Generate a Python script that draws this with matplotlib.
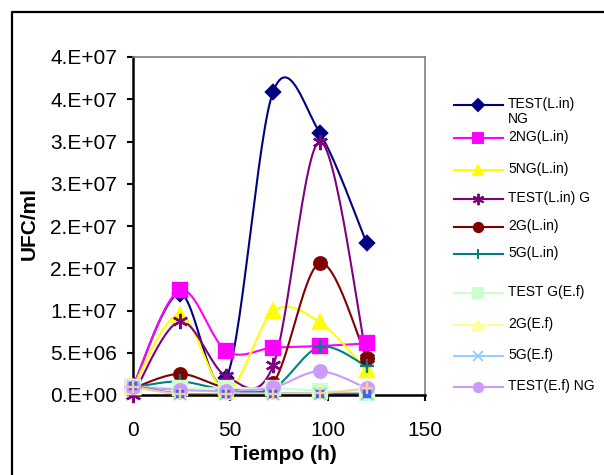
import numpy as np
import matplotlib
matplotlib.use("Agg")
import matplotlib.pyplot as plt
from matplotlib.lines import Line2D
from matplotlib.ticker import FuncFormatter, MultipleLocator

plt.rcParams['font.family'] = ['Liberation Sans', 'DejaVu Sans']

# sampling times (h)
hours = [0, 24, 48, 72, 96, 120]

# UFC/ml per series
test_lin_ng = [1.0e6, 12.0e6, 2.0e6, 35.9e6, 31.0e6, 18.0e6]
ng2_lin = [1.0e6, 12.4e6, 5.2e6, 5.6e6, 5.8e6, 6.1e6]
ng5_lin = [1.0e6, 9.5e6, 0.5e6, 9.9e6, 8.6e6, 2.9e6]
test_lin_g = [0.0, 8.7e6, 2.2e6, 3.5e6, 30.0e6, 4.4e6]
g2_lin = [0.8e6, 2.5e6, 0.9e6, 1.4e6, 15.6e6, 4.4e6]
g5_lin = [0.9e6, 1.6e6, 0.6e6, 0.8e6, 5.7e6, 3.4e6]
test_ef_g = [1.0e6, 0.8e6, 0.8e6, 0.8e6, 0.5e6, 0.2e6]
g2_ef = [0.8e6, 0.2e6, 0.2e6, 0.2e6, 0.2e6, 0.5e6]
g5_ef = [1.0e6, 0.1e6, 0.1e6, 0.1e6, 0.1e6, 0.1e6]
test_ef_ng = [1.0e6, 0.6e6, 0.5e6, 0.9e6, 2.8e6, 0.8e6]
extra_blue = [1.1e6, 0.15e6, 0.15e6, 0.15e6, 0.15e6, 0.15e6]
extra_peach = [1.0e6, 0.1e6, 0.1e6, 0.1e6, 0.2e6, 0.8e6]

labels = ["TEST(L.in)\nNG", "2NG(L.in)", "5NG(L.in)", "TEST(L.in) G", "2G(L.in)",
          "5G(L.in)", "TEST G(E.f)", "2G(E.f)", "5G(E.f)", "TEST(E.f) NG", None, None]
values = [test_lin_ng, ng2_lin, ng5_lin, test_lin_g, g2_lin, g5_lin,
          test_ef_g, g2_ef, g5_ef, test_ef_ng, extra_blue, extra_peach]
colors = ["#000080", "#FF00FF", "#FFFF00", "#800080", "#800000", "#008080",
          "#CCFFCC", "#FFFF99", "#99CCFF", "#CC99FF", "#3366FF", "#FFCC99"]
markers = ["D", "s", "^", (6, 2, 0), "o", "+", "s", "^", "x", "o", "s", "+"]
msizes = [7.5, 10.5, 10, 11, 9, 10, 9.5, 9, 9, 9, 5, 9]


def smooth(x, y, n=30):
    # Excel-style smoothed line (Catmull-Rom as cubic Bezier)
    p = np.column_stack([x, y]).astype(float)
    pp = np.vstack([p[0], p, p[-1]])
    t = np.linspace(0, 1, n)[:, None]
    out = []
    for i in range(len(p) - 1):
        p0, p1, p2, p3 = pp[i], pp[i + 1], pp[i + 2], pp[i + 3]
        c1 = p1 + (p2 - p0) / 6
        c2 = p2 - (p3 - p1) / 6
        seg = ((1 - t) ** 3) * p1 + 3 * ((1 - t) ** 2) * t * c1 + 3 * (1 - t) * t ** 2 * c2 + t ** 3 * p2
        out.append(seg)
    out = np.vstack(out)
    return out[:, 0], out[:, 1]


def excel_fmt(v, pos):
    if v == 0:
        return "0.E+00"
    e = int(np.floor(np.log10(abs(v))))
    m = int(np.floor(v / 10 ** e + 0.5))
    if m >= 10:
        m //= 10
        e += 1
    return f"{m}.E+{e:02d}"


W, H = 604, 475
fig = plt.figure(figsize=(W / 100, H / 100), dpi=100)
ax = fig.add_axes([133 / W, 1 - 395 / H, (425 - 133) / W, (395 - 57) / H])

for vals, c, m, ms in zip(values, colors, markers, msizes):
    sx, sy = smooth(hours, vals)
    ax.plot(sx, sy, color=c, lw=1.5, clip_on=False, zorder=2)
    ax.plot(hours, vals, linestyle="none", marker=m, ms=ms, color=c,
            mec=c, mew=1.7, clip_on=False, zorder=3)

ax.set_xlim(0, 150)
ax.set_ylim(0, 4e7)
ax.xaxis.set_major_locator(MultipleLocator(50))
ax.yaxis.set_major_locator(MultipleLocator(5e6))
ax.yaxis.set_major_formatter(FuncFormatter(excel_fmt))
ax.tick_params(axis="both", labelsize=15, direction="out", width=1.5, length=4.5)
ax.tick_params(axis="x", pad=14)
ax.tick_params(axis="y", pad=7)
for s in ["left", "bottom"]:
    ax.spines[s].set_linewidth(1.8)
    ax.spines[s].set_color("black")
for s in ["top", "right"]:
    ax.spines[s].set_linewidth(1.2)
    ax.spines[s].set_color("#808080")

fig.text(283 / W, 1 - 455 / H, "Tiempo (h)", ha="center", va="center",
         fontsize=15, fontweight="bold")
fig.text(29 / W, 1 - 223 / H, "UFC/ml", ha="center", va="center",
         rotation=90, fontsize=15, fontweight="bold")

# legend drawn by hand to keep the wrapped first label
leg_y = [105, 138, 170, 199, 227, 254, 293, 325, 356, 387]
for i, y in enumerate(leg_y):
    yf = 1 - y / H
    fig.add_artist(Line2D([454 / W, 503 / W], [yf, yf], color=colors[i], lw=1.5,
                          transform=fig.transFigure))
    fig.add_artist(Line2D([478 / W], [yf], marker=markers[i], ms=msizes[i] * 0.75,
                          color=colors[i], mec=colors[i], mew=1.4,
                          transform=fig.transFigure))
    fig.text(508 / W, 1 - (y - 8) / H, labels[i], ha="left", va="top",
             fontsize=10, linespacing=1.05)

# outer chart frame (left and top edges)
fig.add_artist(Line2D([11.5 / W, 11.5 / W, 1.0], [0, 1 - 11.5 / H, 1 - 11.5 / H],
                      color="black", lw=1.6, transform=fig.transFigure))

fig.savefig("out.png", dpi=100)
